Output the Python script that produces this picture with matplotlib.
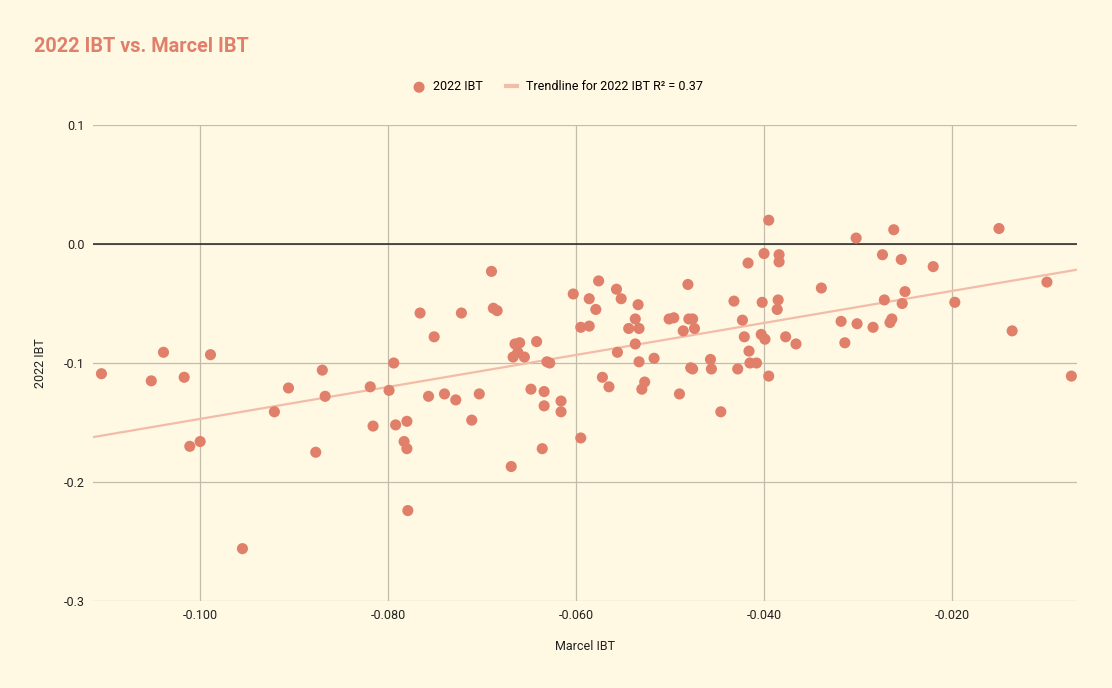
import matplotlib.pyplot as plt
import numpy as np

plt.rcParams['font.family'] = ['Roboto', 'DejaVu Sans']

# Marcel IBT (x) and 2022 IBT (y)
marcel_ibt = [-0.1105, -0.1052, -0.1039, -0.1017, -0.0989, -0.1011, -0.1000, -0.0955,
              -0.0921, -0.0906, -0.0877, -0.0870, -0.0867, -0.0819, -0.0816, -0.0799,
              -0.0794, -0.0792, -0.0783, -0.0780, -0.0780, -0.0779, -0.0766, -0.0757,
              -0.0751, -0.0740, -0.0728, -0.0722, -0.0711, -0.0703, -0.0690, -0.0688,
              -0.0684, -0.0669, -0.0667, -0.0665, -0.0662, -0.0660, -0.0655, -0.0648,
              -0.0642, -0.0636, -0.0634, -0.0634, -0.0631, -0.0628, -0.0616, -0.0616,
              -0.0603, -0.0595, -0.0595, -0.0586, -0.0586, -0.0579, -0.0576, -0.0572,
              -0.0565, -0.0557, -0.0556, -0.0552, -0.0544, -0.0537, -0.0537, -0.0534,
              -0.0533, -0.0533, -0.0530, -0.0527, -0.0517, -0.0501, -0.0496, -0.0490,
              -0.0486, -0.0481, -0.0480, -0.0478, -0.0476, -0.0476, -0.0474, -0.0457,
              -0.0456, -0.0446, -0.0432, -0.0428, -0.0423, -0.0421, -0.0417, -0.0416,
              -0.0415, -0.0408, -0.0403, -0.0402, -0.0400, -0.0399, -0.0395, -0.0395,
              -0.0386, -0.0385, -0.0384, -0.0384, -0.0377, -0.0366, -0.0339, -0.0318,
              -0.0314, -0.0302, -0.0301, -0.0284, -0.0274, -0.0272, -0.0266, -0.0264,
              -0.0262, -0.0254, -0.0253, -0.0250, -0.0220, -0.0197, -0.0150, -0.0136,
              -0.0099, -0.0073]
ibt_2022 = [-0.109, -0.115, -0.091, -0.112, -0.093, -0.170, -0.166, -0.256,
            -0.141, -0.121, -0.175, -0.106, -0.128, -0.120, -0.153, -0.123,
            -0.100, -0.152, -0.166, -0.172, -0.149, -0.224, -0.058, -0.128,
            -0.078, -0.126, -0.131, -0.058, -0.148, -0.126, -0.023, -0.054,
            -0.056, -0.187, -0.095, -0.084, -0.091, -0.083, -0.095, -0.122,
            -0.082, -0.172, -0.124, -0.136, -0.099, -0.100, -0.132, -0.141,
            -0.042, -0.163, -0.070, -0.069, -0.046, -0.055, -0.031, -0.112,
            -0.120, -0.038, -0.091, -0.046, -0.071, -0.063, -0.084, -0.051,
            -0.071, -0.099, -0.122, -0.116, -0.096, -0.063, -0.062, -0.126,
            -0.073, -0.034, -0.063, -0.104, -0.063, -0.105, -0.071, -0.097,
            -0.105, -0.141, -0.048, -0.105, -0.064, -0.078, -0.016, -0.090,
            -0.100, -0.100, -0.076, -0.049, -0.008, -0.080, 0.020, -0.111,
            -0.055, -0.047, -0.009, -0.015, -0.078, -0.084, -0.037, -0.065,
            -0.083, 0.005, -0.067, -0.070, -0.009, -0.047, -0.066, -0.063,
            0.012, -0.013, -0.050, -0.040, -0.019, -0.049, 0.013, -0.073,
            -0.032, -0.111]

x_ticks = [-0.100, -0.080, -0.060, -0.040, -0.020]
y_ticks = [-0.3, -0.2, -0.1, 0.0, 0.1]

bg = '#fff8e3'
dot = '#e07f6a'
trend = '#f2bca8'
grid = '#c4bcaa'

fig = plt.figure(figsize=(11.12, 6.88), dpi=100, facecolor=bg)
ax = fig.add_axes([93 / 1112, 87 / 688, 984 / 1112, 476 / 688], facecolor=bg)

xlim = (-0.1114, -0.0067)
ax.set_xlim(*xlim)
ax.set_ylim(-0.3, 0.1)
ax.set_axisbelow(True)

# trendline through the data
slope, icept = np.polyfit(marcel_ibt, ibt_2022, 1)
tx = np.array(xlim)
ax.plot(tx, slope * tx + icept, color=trend, lw=1.6, zorder=3,
        label='Trendline for 2022 IBT R² = 0.37')

ax.scatter(marcel_ibt, ibt_2022, s=64, color=dot, edgecolors='none', zorder=4,
           label='2022 IBT')

ax.axhline(0, color='#222222', lw=1.1, zorder=2.5)

ax.set_xticks(x_ticks)
ax.set_xticklabels(['%.3f' % v for v in x_ticks])
ax.set_yticks(y_ticks)
ax.set_yticklabels(['%.1f' % v for v in y_ticks])
ax.grid(True, color=grid, lw=0.9)
ax.tick_params(length=0, labelsize=9, colors='#222222', pad=6)
for s in ax.spines.values():
    s.set_visible(False)

ax.set_xlabel('Marcel IBT', fontsize=9, color='#222222', labelpad=13)
ax.set_ylabel('2022 IBT', fontsize=9, color='#222222', labelpad=12)

fig.text(34 / 1112, 1 - 46 / 688, '2022 IBT vs. Marcel IBT', fontsize=14.3,
         fontweight='bold', color='#e07f6a', va='center', ha='left')

handles, labels = ax.get_legend_handles_labels()
leg = fig.legend(handles[::-1], labels[::-1], loc='center',
                 bbox_to_anchor=(558 / 1112, 1 - 87 / 688),
                 ncol=2, frameon=False, fontsize=9, handlelength=0.9, handletextpad=0.7,
                 columnspacing=1.8)
leg.get_lines()[0].set_linewidth(3) if leg.get_lines() else None

plt.savefig('out.png', dpi=100, facecolor=bg)
